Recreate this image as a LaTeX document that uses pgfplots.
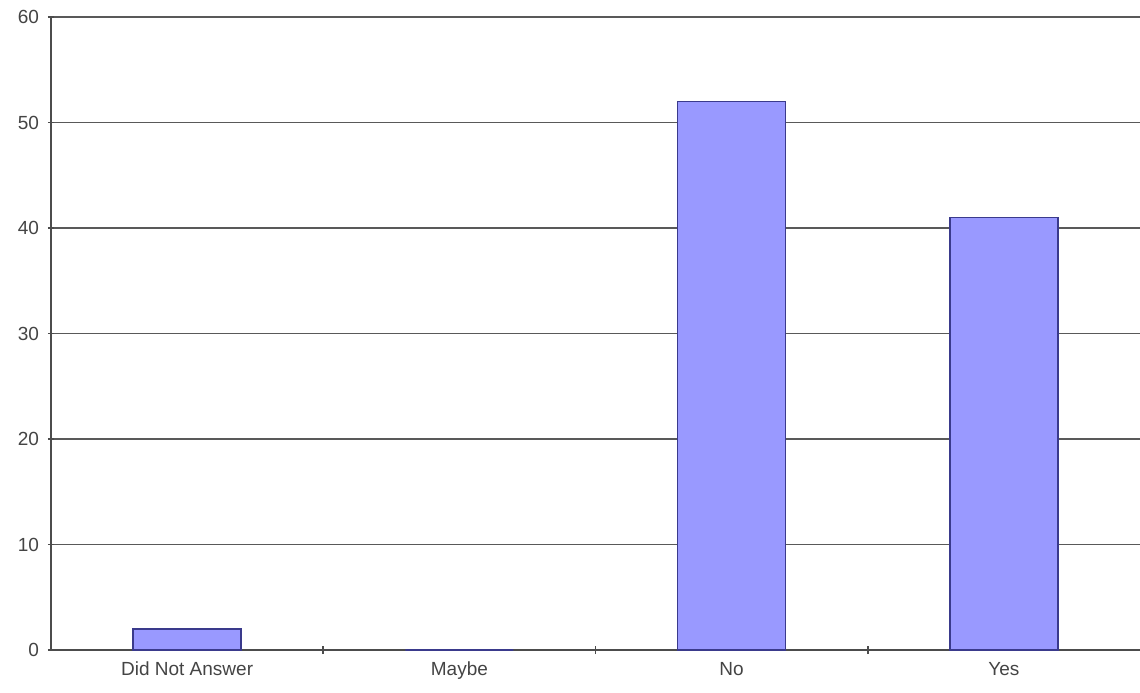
\documentclass[border=0pt]{standalone}
\usepackage{pgfplots}
\pgfplotsset{compat=1.18}
\usepackage{fontspec}
\setmainfont{Liberation Sans}
\definecolor{barfill}{HTML}{9999FF}
\definecolor{barline}{HTML}{3A3A8C}
\definecolor{txt}{HTML}{444444}
\begin{document}
\begin{tikzpicture}
\useasboundingbox (-25.5pt,-21pt) rectangle (544.5pt,325pt);
\begin{axis}[
  scale only axis,
  width=544.5pt, height=316.5pt,
  xmin=-0.5, xmax=3.5,
  ymin=0, ymax=60,
  axis x line=bottom, axis y line=left,
  axis line style={-, color=black!70, line width=1pt},
  xtick={0,1,2,3},
  xticklabels={Did Not Answer, Maybe, No, Yes},
  major x tick style={draw=none},
  minor xtick={0.5,1.5,2.5},
  minor x tick style={black!70, line width=0.8pt},
  minor tick length=4pt,
  ytick={0,10,20,30,40,50,60},
  major y tick style={black!70, line width=0.8pt},
  major tick length=3pt,
  ymajorgrids,
  grid style={black!65, line width=0.9pt},
  tick label style={font=\fontsize{9.5}{11}\selectfont, color=txt},
  /pgf/number format/assume math mode=true,
  xticklabel style={yshift=-1pt},
  yticklabel style={xshift=-1pt},
  tick align=center,
]
\addplot[ybar, bar width=54pt, fill=barfill, draw=barline, line width=0.8pt]
  coordinates {(0,2) (1,0) (2,52) (3,41)};
\end{axis}
\end{tikzpicture}
\end{document}
